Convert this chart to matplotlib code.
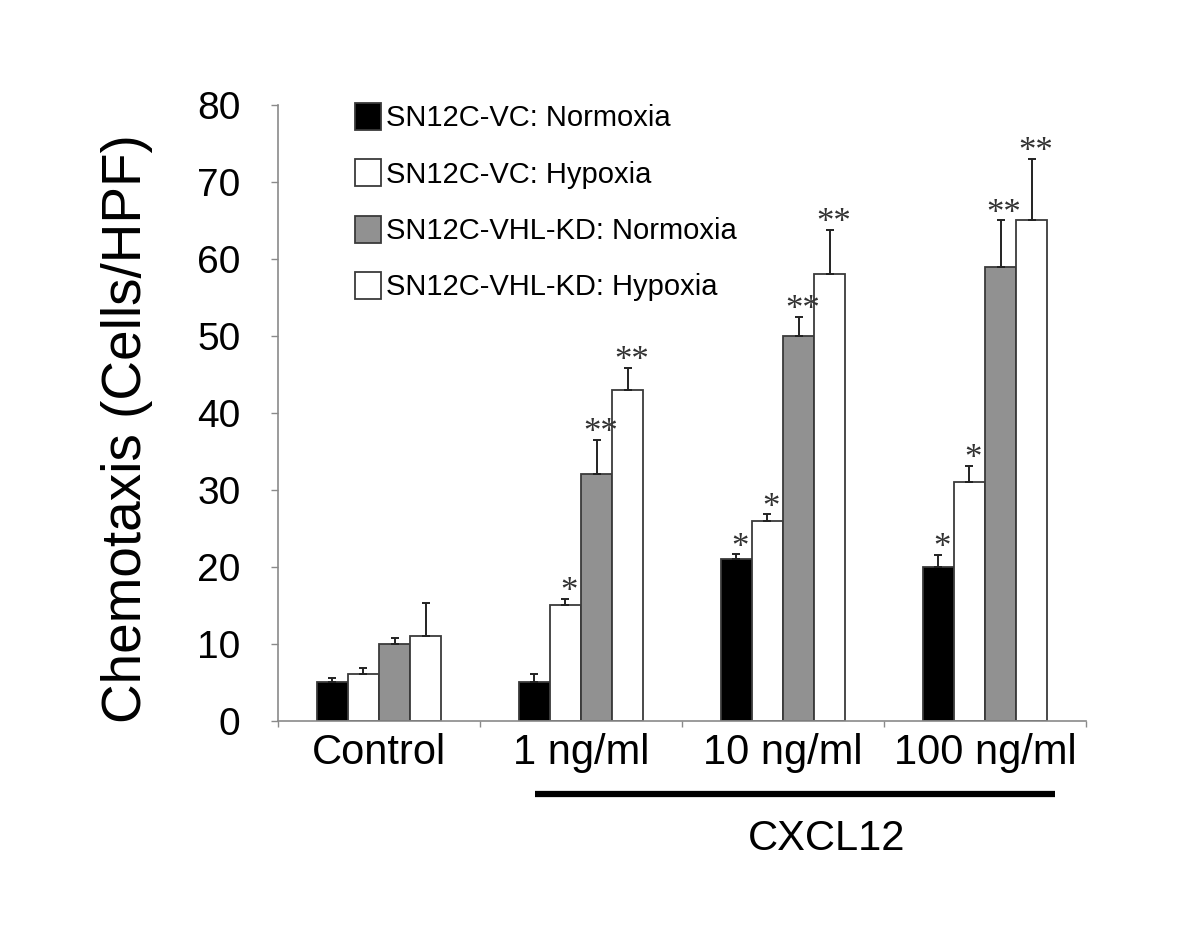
import numpy as np
import matplotlib
matplotlib.use("Agg")
import matplotlib.pyplot as plt
from matplotlib.patches import Patch
import matplotlib.transforms as mtransforms

plt.rcParams['font.family'] = ['Liberation Sans', 'DejaVu Sans']

# data
categories = ['Control', '1 ng/ml', '10 ng/ml', '100 ng/ml']
series_labels = [
    'SN12C-VC: Normoxia',
    'SN12C-VC: Hypoxia',
    'SN12C-VHL-KD: Normoxia',
    'SN12C-VHL-KD: Hypoxia',
]
vc_normoxia = [5, 5, 21, 20]
vc_hypoxia = [6, 15, 26, 31]
kd_normoxia = [10, 32, 50, 59]
kd_hypoxia = [11, 43, 58, 65]

vc_normoxia_err = [0.6, 1.0, 0.6, 1.5]
vc_hypoxia_err = [0.9, 0.8, 0.8, 2.1]
kd_normoxia_err = [0.75, 4.5, 2.5, 6.0]
kd_hypoxia_err = [4.3, 2.8, 5.8, 8.0]

# significance marks above each bar
vc_normoxia_sig = ['', '', '*', '*']
vc_hypoxia_sig = ['', '*', '*', '*']
kd_normoxia_sig = ['', '**', '**', '**']
kd_hypoxia_sig = ['', '**', '**', '**']

bracket_label = 'CXCL12'
y_ticks = [0, 10, 20, 30, 40, 50, 60, 70, 80]

values = [vc_normoxia, vc_hypoxia, kd_normoxia, kd_hypoxia]
errors = [vc_normoxia_err, vc_hypoxia_err, kd_normoxia_err, kd_hypoxia_err]
marks = [vc_normoxia_sig, vc_hypoxia_sig, kd_normoxia_sig, kd_hypoxia_sig]
fills = ['black', 'white', '#919191', 'white']

BAR_W = 0.154
EDGE = '#3a3a3a'
AXIS_GREY = '#8a8a8a'

fig = plt.figure(figsize=(12, 9.27), dpi=100)
ax = fig.add_axes([0.2317, 0.2226, 0.6733, 0.6641])

x = np.arange(len(categories))
for i, (vals, errs, sig, fc) in enumerate(zip(values, errors, marks, fills)):
    pos = x + (i - 1.5) * BAR_W
    ax.bar(pos, vals, width=BAR_W, color=fc, edgecolor=EDGE,
           linewidth=1.3, zorder=2)
    ax.errorbar(pos, vals, yerr=[np.zeros(len(vals)), errs], fmt='none',
                ecolor='#222222', elinewidth=1.4, capsize=2.8,
                capthick=1.4, zorder=3)
    for p, v, e, s in zip(pos, vals, errs, sig):
        if s:
            ax.annotate(s, (p, v + e), xytext=(2.6, 4.5),
                        textcoords='offset points', ha='center',
                        va='center', fontsize=25, color='#333333',
                        family='Liberation Serif', zorder=4)

ax.set_xlim(-0.5, len(categories) - 0.5)
ax.set_ylim(0, 80)
ax.set_yticks(y_ticks)
ax.set_xticks(x)
ax.set_xticklabels(categories, fontsize=30)
ax.set_xticks(np.arange(len(categories) + 1) - 0.5, minor=True)
ax.tick_params(axis='x', which='major', length=0, pad=9)
ax.tick_params(axis='x', which='minor', length=4, color=AXIS_GREY,
               width=1)
ax.tick_params(axis='y', labelsize=28, length=5, color=AXIS_GREY,
               width=1, pad=22)

for side in ['top', 'right']:
    ax.spines[side].set_visible(False)
for side in ['left', 'bottom']:
    ax.spines[side].set_color(AXIS_GREY)
    ax.spines[side].set_linewidth(1.2)

ax.set_ylabel('Chemotaxis (Cells/HPF)', fontsize=39.5)
ax.yaxis.set_label_coords(-0.155, 0.475)

# bracket line under the CXCL12 doses
trans = mtransforms.blended_transform_factory(ax.transData, ax.transAxes)
ax.plot([0.772, 3.346], [-0.119, -0.119], color='black', linewidth=4.5,
        solid_capstyle='butt', transform=trans, clip_on=False)
ax.text(2.218, -0.192, bracket_label, transform=trans, ha='center',
        va='center', fontsize=30)

# legend
handles = [Patch(facecolor=fc, edgecolor=EDGE, linewidth=1.3)
           for fc in fills]
fig.legend(handles, series_labels, loc='upper left',
           bbox_to_anchor=(355 / 1200, 1 - 103 / 927),
           frameon=False, fontsize=21, borderpad=0, borderaxespad=0,
           handlelength=0.9, handleheight=1.05, handletextpad=0.15,
           labelspacing=0.92)

fig.savefig('out.png', dpi=100)
